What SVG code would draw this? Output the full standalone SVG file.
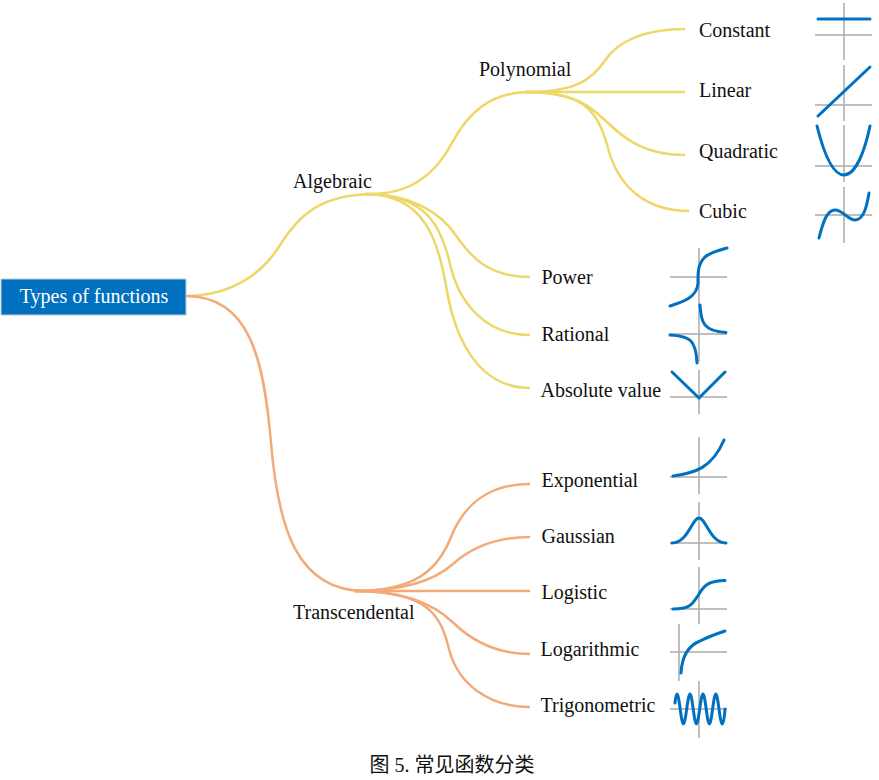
<svg xmlns="http://www.w3.org/2000/svg" width="879" height="780" viewBox="0 0 879 780">
<style>
text{font-family:"Liberation Serif","Noto Sans CJK SC",serif;font-size:20px;fill:#111}
.c{fill:none;stroke-width:2.5}
.y{stroke:#ecd767}
.o{stroke:#f2ab78}
.a{fill:none;stroke:#aaa;stroke-width:1.5}
.f{fill:none;stroke:#0070c0;stroke-width:3;stroke-linecap:round}
</style>
<rect width="879" height="780" fill="#fff"/>
<g id="connectors">
<path class="c y" d="M186,296C232,296 264,272 280,245C298,216 320,194 375,194"/>
<path class="c o" d="M186,296C250,296 264,360 271,443C278,526 296,591 365,591"/>
<path class="c y" d="M370,194C410,194 435,175 452,143C468,113 490,92 530,92"/>
<path class="c y" d="M525,92C575,92 592,80 605,60.500C618,41 645,29 685,29"/>
<path class="c y" d="M525,92H685"/>
<path class="c y" d="M525,92C575,92 590,106 609,124C625,139 645,155 685,155"/>
<path class="c y" d="M525,92C582,92 597,108 608,148C618,186 645,211 689,211"/>
<path class="c y" d="M365,194C410,194 440,212 456,235.500C472,259 490,277 530,277"/>
<path class="c y" d="M365,194C425,194 441,225 450,264C459,303 485,335 530,335"/>
<path class="c y" d="M365,194C425,194 438,240 447,291C456,342 480,388 530,388"/>
<path class="c o" d="M355,591C415,591 438,570 451,537C464,504 490,484 530,484"/>
<path class="c o" d="M355,591C405,591 435,580 453,564C471,548 495,537 530,537"/>
<path class="c o" d="M355,591H530"/>
<path class="c o" d="M355,591C405,591 435,605 453,622.500C471,640 495,654 530,654"/>
<path class="c o" d="M355,591C430,591 441,617 449,649C458,685 490,707 530,707"/>
</g>
<g id="root"><rect x="1" y="279" width="185" height="36" fill="#0070c0" stroke="#c5cdd5"/><text x="94" y="303" text-anchor="middle" style="fill:#fff">Types of functions</text></g>
<g id="algebraic"><text x="293" y="188">Algebraic</text></g>
<g id="polynomial"><text x="479" y="76">Polynomial</text></g>
<g id="transcendental"><text x="293" y="619">Transcendental</text></g>
<g id="constant"><text x="699" y="37">Constant</text><path class="a" d="M844,3V60M815,35H872"/><path class="f" d="M818,19H870"/></g>
<g id="linear"><text x="699" y="97">Linear</text><path class="a" d="M844,65V121M815,105H872"/><path class="f" d="M818,116L870,67"/></g>
<g id="quadratic"><text x="699" y="158">Quadratic</text><path class="a" d="M844,125V182M815,166H872"/><path class="f" d="M817,126C823,150 832,175 844,175C856,175 865,150 870,126"/></g>
<g id="cubic"><text x="699" y="218">Cubic</text><path class="a" d="M844,187V243M815,215H872"/><path class="f" d="M819,238C823,222 827,210 835,210C843,210 848,220 855,220C864,220 867,205 869,193"/></g>
<g id="power"><text x="541.500" y="284">Power</text><path class="a" d="M699,248V306M670,277H727"/><path class="f" d="M670,306C682,302 697,298 698,283C698,275 697,265 705,257C711,252 720,250 727,248"/></g>
<g id="rational"><text x="541.500" y="341">Rational</text><path class="a" d="M699,305V362M670,334H727"/><path class="f" d="M700,305C701,322 703,331 726,332.500M670,335C690,336 696,340 697,363"/></g>
<g id="absolute"><text x="540.500" y="397">Absolute value</text><path class="a" d="M699,370V414M670,397H727"/><path class="f" d="M672,372L699,398L725,372"/></g>
<g id="exponential"><text x="541.500" y="487">Exponential</text><path class="a" d="M699,437V494M670,477H727"/><path class="f" d="M673,476C695,473 712,468 724,440"/></g>
<g id="gaussian"><text x="541.500" y="543">Gaussian</text><path class="a" d="M699,502V560M670,543H727"/><path class="f" d="M672,543C688,543 692,518 699,518C706,518 710,543 726,543"/></g>
<g id="logistic"><text x="541.500" y="599">Logistic</text><path class="a" d="M699,567V624M670,609H727"/><path class="f" d="M673,609C690,609 692,605 699,594C705,584 710,581 725,580.500"/></g>
<g id="logarithmic"><text x="540.500" y="656">Logarithmic</text><path class="a" d="M679,624V681M670,652H727"/><path class="f" d="M681,673C682,655 690,645 700,641C708,637 716,634 725,631"/></g>
<g id="trigonometric"><text x="540.500" y="712">Trigonometric</text><path class="a" d="M699,681V738M670,709H727"/><path class="f" d="M675,703C675.500,698 676,694 677,694C679.300,694 681.100,724 683.400,724C685.700,724 687.700,694 690,694C692.300,694 694.100,724 696.400,724C698.700,724 700.700,694 703,694C705.300,694 707.100,724 709.400,724C711.700,724 713.500,694 715.800,694C718.100,694 719.900,724 722.200,724C723.500,724 724.500,717 725,709"/></g>
<text id="caption" x="452" y="772" text-anchor="middle">图 5. 常见函数分类</text>
</svg>
